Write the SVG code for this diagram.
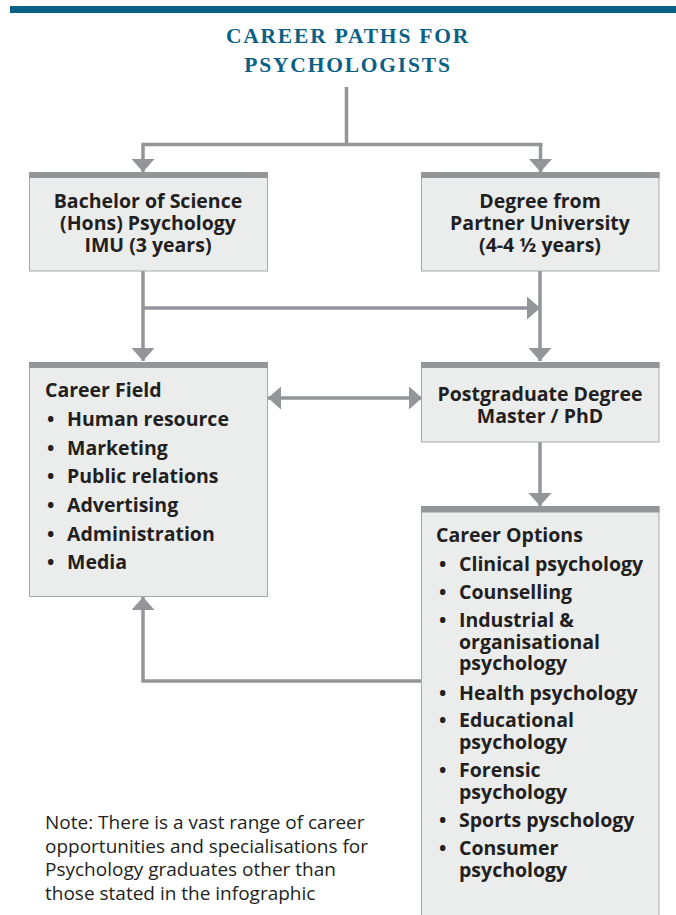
<svg xmlns="http://www.w3.org/2000/svg" width="676" height="915" viewBox="0 0 676 915">
<style>
.box{fill:#ebecec;stroke:#a7a9ac;stroke-width:1}
.bar{fill:#939598}
.t{font-family:"Open Sans","Noto Sans","Liberation Sans",sans-serif;font-weight:bold;font-size:19.5px;fill:#231f20}
.c{text-anchor:middle}
.note{font-family:"Open Sans","Noto Sans","Liberation Sans",sans-serif;font-size:19px;fill:#231f20}
.title{font-family:"Liberation Serif","Times New Roman",serif;font-weight:bold;font-size:21.5px;letter-spacing:1.8px;fill:#0b6185;text-anchor:middle}
.ln{fill:none;stroke:#939598;stroke-width:3.5}
</style>
<defs>
<marker id="ah" markerUnits="userSpaceOnUse" markerWidth="13" markerHeight="23" viewBox="0 0 13 23" refX="13" refY="11.5" orient="auto-start-reverse">
<path d="M0,0 L13,11.5 L0,23 Z" fill="#939598"/>
</marker>
</defs>
<rect x="10" y="6" width="666" height="7" fill="#0b6185"/>
<g id="title">
<text class="title" x="348" y="43">CAREER PATHS FOR</text>
<text class="title" x="348" y="72">PSYCHOLOGISTS</text>
</g>
<g id="connectors">
<path class="ln" d="M346.5,87 V144.5 M141.5,144.5 H542.5"/>
<path class="ln" d="M143,144.5 V172" marker-end="url(#ah)"/>
<path class="ln" d="M540.5,144.5 V172" marker-end="url(#ah)"/>
<path class="ln" d="M143,308 H540" marker-end="url(#ah)"/>
<path class="ln" d="M540,271 V361" marker-end="url(#ah)"/>
<path class="ln" d="M143,271 V361" marker-end="url(#ah)"/>
<path class="ln" d="M268,398 H422" marker-start="url(#ah)" marker-end="url(#ah)"/>
<path class="ln" d="M540,442 V506" marker-end="url(#ah)"/>
<path class="ln" d="M421,681 H143 V597" marker-end="url(#ah)"/>
</g>
<g id="bsc">
<rect class="box" x="29.5" y="172.5" width="238" height="98.5"/>
<rect class="bar" x="29" y="172" width="239" height="6"/>
<text class="t c" x="148" y="208">Bachelor of Science</text>
<text class="t c" x="148" y="230">(Hons) Psychology</text>
<text class="t c" x="148" y="252">IMU (3 years)</text>
</g>
<g id="partner">
<rect class="box" x="421.5" y="172.5" width="237.5" height="98.5"/>
<rect class="bar" x="421" y="172" width="238.5" height="6"/>
<text class="t c" x="540" y="208">Degree from</text>
<text class="t c" x="540" y="230">Partner University</text>
<text class="t c" x="540" y="252">(4-4 ½ years)</text>
</g>
<g id="career-field">
<rect class="box" x="29.5" y="362.5" width="238" height="234"/>
<rect class="bar" x="29" y="362" width="239" height="6"/>
<text class="t" x="45" y="397">Career Field</text>
<text class="t" x="47" y="426">•</text><text class="t" x="67" y="426">Human resource</text>
<text class="t" x="47" y="455">•</text><text class="t" x="67" y="455">Marketing</text>
<text class="t" x="47" y="483">•</text><text class="t" x="67" y="483">Public relations</text>
<text class="t" x="47" y="512">•</text><text class="t" x="67" y="512">Advertising</text>
<text class="t" x="47" y="541">•</text><text class="t" x="67" y="541">Administration</text>
<text class="t" x="47" y="569">•</text><text class="t" x="67" y="569">Media</text>
</g>
<g id="postgrad">
<rect class="box" x="421.5" y="362.5" width="237.5" height="79.5"/>
<rect class="bar" x="421" y="362" width="238.5" height="6"/>
<text class="t c" x="540" y="401">Postgraduate Degree</text>
<text class="t c" x="540" y="423">Master / PhD</text>
</g>
<g id="career-options">
<rect class="box" x="421.5" y="506.5" width="237.5" height="420"/>
<rect class="bar" x="421" y="506" width="238.5" height="6.5"/>
<text class="t" x="436" y="542">Career Options</text>
<text class="t" x="439" y="571">•</text><text class="t" x="459" y="571">Clinical psychology</text>
<text class="t" x="439" y="599">•</text><text class="t" x="459" y="599">Counselling</text>
<text class="t" x="439" y="627">•</text><text class="t" x="459" y="627">Industrial &amp;</text>
<text class="t" x="459" y="649">organisational</text>
<text class="t" x="459" y="670">psychology</text>
<text class="t" x="439" y="700">•</text><text class="t" x="459" y="700">Health psychology</text>
<text class="t" x="439" y="727">•</text><text class="t" x="459" y="727">Educational</text>
<text class="t" x="459" y="749">psychology</text>
<text class="t" x="439" y="777">•</text><text class="t" x="459" y="777">Forensic</text>
<text class="t" x="459" y="799">psychology</text>
<text class="t" x="439" y="827">•</text><text class="t" x="459" y="827">Sports pyschology</text>
<text class="t" x="439" y="855">•</text><text class="t" x="459" y="855">Consumer</text>
<text class="t" x="459" y="877">psychology</text>
</g>
<g id="note">
<text class="note" x="45" y="829">Note: There is a vast range of career</text>
<text class="note" x="45" y="853">opportunities and specialisations for</text>
<text class="note" x="45" y="876">Psychology graduates other than</text>
<text class="note" x="45" y="900">those stated in the infographic</text>
</g>
</svg>
